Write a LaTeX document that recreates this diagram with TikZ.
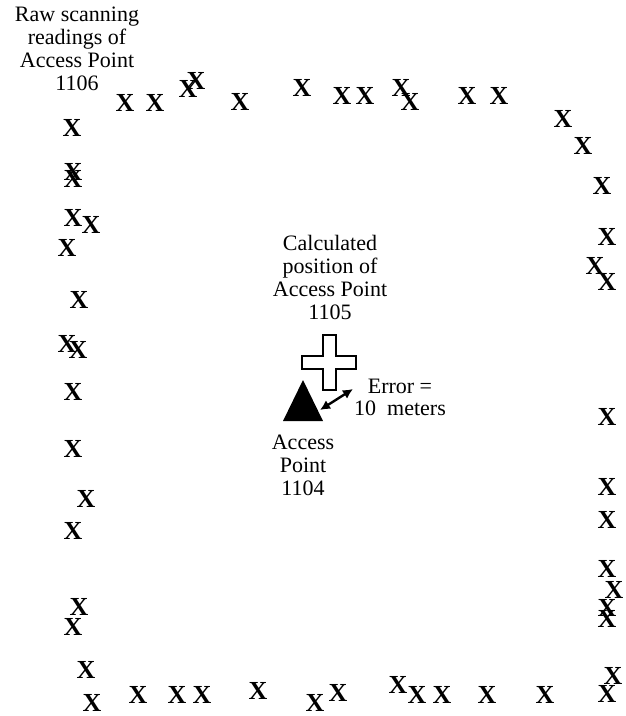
\documentclass[tikz,border=0pt]{standalone}
\usepackage{fontspec}
\setmainfont{Liberation Serif}
\usetikzlibrary{arrows.meta}

\tikzset{
  reading/.style={inner sep=0pt,font=\fontsize{26}{26}\selectfont\bfseries},
  labeltext/.style={align=center,inner sep=0pt,font=\fontsize{22}{23}\selectfont},
}

\begin{document}
\begin{tikzpicture}[x=1pt,y=-1pt]
  \useasboundingbox (0,0) rectangle (625,716);
  % raw readings round the access point
  \foreach \px/\py [count=\i] in {
      72/128, 125/103, 155/103, 188/89, 196/81, 240/102, 302/88, 342/96, 365/96,
      401/88, 410/102, 467/96, 499/96, 563/119, 583/146, 602/186, 607/237,
      595/266, 607/282,
      73/172, 73/179, 73/218, 91/225, 67/248, 79/300, 67/344, 78/350, 73/392,
      73/449, 86/499, 73/531, 79/607, 73/627, 86/670, 92/703,
      138/695, 177/695, 202/695, 258/691, 315/703, 338/693, 398/685, 417/695,
      442/695, 487/695, 545/695,
      607/417, 607/487, 607/520, 607/569, 614/590, 607/608, 607/619,
      613/676, 607/694}
    \node[reading] (r\i) at (\px,\py) {X};
  \node[labeltext] (raw) at (77,49) {Raw scanning\\readings of\\Access Point\\1106};
  % calculated position
  \node[labeltext] (calc) at (330,277) {Calculated\\position of\\Access Point\\1105};
  \coordinate (cross) at (329,362);
  \draw[line width=2pt,fill=white] (322.5,335) -- (335.5,335) -- (335.5,355.5) -- (356,355.5)
    -- (356,368.5) -- (335.5,368.5) -- (335.5,390) -- (322.5,390) -- (322.5,368.5)
    -- (302,368.5) -- (302,355.5) -- (322.5,355.5) -- cycle;
  % true access point
  \fill (303,380) -- (283,421) -- (323,421) -- cycle;
  \node[labeltext] (ap) at (303,465) {Access\\Point\\1104};
  \coordinate (tri) at (320,410);
  \coordinate (crs) at (353,389);
  \draw[line width=2.4pt,{Latex[length=10pt,width=10pt]}-{Latex[length=10pt,width=10pt]}] (tri) -- (crs);
  \node[labeltext,font=\fontsize{22}{22}\selectfont] (err) at (400,397) {Error =\\10~~meters};
\end{tikzpicture}
\end{document}
